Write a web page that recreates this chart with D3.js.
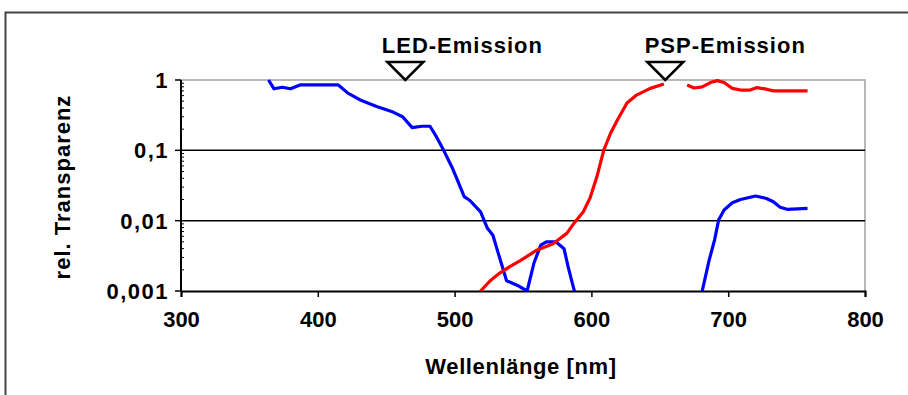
<!DOCTYPE html>
<html>
<head>
<meta charset="utf-8">
<script src="https://cdn.jsdelivr.net/npm/d3@7"></script>
<style>
  body { margin: 0; background: #fff; }
  text { font-family: "Liberation Sans", Arial, sans-serif; font-weight: bold; fill: #000; }
</style>
</head>
<body>
<svg id="chart" width="908" height="395"></svg>
<script>
// Daten: Transmissionskurven der beiden Filter (Wellenlänge in nm, rel. Transparenz)
const blueWl  = [364, 368, 374, 380, 387, 415, 422, 431, 443, 455, 462, 469, 476, 482, 486, 492, 498, 502, 507, 511, 519, 524, 528, 532, 538, 546, 553, 558, 563, 567, 574, 580, 583, 587, 589,
                 null,
                 679, 681, 686, 690, 693, 697, 703, 709, 720, 728, 733, 738, 743, 758];
const blueVal = [1.0, 0.75, 0.79, 0.75, 0.85, 0.85, 0.65, 0.52, 0.42, 0.35, 0.30, 0.21, 0.22, 0.22, 0.165, 0.10, 0.058, 0.038, 0.022, 0.0195, 0.0133, 0.0078, 0.0062, 0.0034, 0.0014, 0.0012, 0.001, 0.0025, 0.0045, 0.005, 0.005, 0.004, 0.0022, 0.0011, 0.0008,
                 null,
                 0.0008, 0.001, 0.0027, 0.0053, 0.0102, 0.0142, 0.018, 0.020, 0.0224, 0.0207, 0.0186, 0.0155, 0.0145, 0.015];

const redWl  = [517, 519, 526, 533, 540, 548, 560, 572, 582, 588, 594, 599, 604, 609, 614, 619, 626, 633, 643, 653,
                null,
                670, 675, 681, 687, 692, 697, 703, 709, 716, 721, 728, 733, 758];
const redVal = [0.0008, 0.001, 0.0014, 0.0018, 0.0022, 0.0027, 0.0038, 0.0047, 0.0066, 0.0096, 0.0133, 0.021, 0.042, 0.1, 0.175, 0.27, 0.47, 0.61, 0.76, 0.88,
                null,
                0.85, 0.77, 0.8, 0.92, 0.98, 0.92, 0.76, 0.72, 0.72, 0.78, 0.74, 0.70, 0.70];

// Emissionsmarken
const markerNames = ["LED-Emission", "PSP-Emission"];
const markerWl    = [464, 654];

// Achsenbeschriftung
const xTicks = [300, 400, 500, 600, 700, 800];
const yTicks = [1, 0.1, 0.01, 0.001];
const yTickLabels = ["1", "0,1", "0,01", "0,001"];

const svg = d3.select("#chart");

const pLeft = 181, pRight = 865, pTop = 80, pBottom = 291;

const xScale = d3.scaleLinear().domain([300, 800]).range([pLeft, pRight]);
const yScale = d3.scaleLog().domain([0.001, 1]).range([pBottom, pTop]);

// äußerer Rahmen
svg.append("rect")
  .attr("x", 5.5).attr("y", 12.5)
  .attr("width", 1000).attr("height", 500)
  .attr("fill", "none")
  .attr("stroke", "#444")
  .attr("stroke-width", 2);

// Plotfläche Rand (grau)
svg.append("path")
  .attr("d", `M${pLeft},${pTop}H${pRight}V${pBottom}`)
  .attr("fill", "none")
  .attr("stroke", "#a0a0a0")
  .attr("stroke-width", 1.5);

// Gitterlinien
svg.append("g")
  .selectAll("line")
  .data([0.1, 0.01])
  .join("line")
  .attr("x1", pLeft).attr("x2", pRight)
  .attr("y1", d => yScale(d)).attr("y2", d => yScale(d))
  .attr("stroke", "#000")
  .attr("stroke-width", 1.5);

// Y-Achse
const yMinor = [];
[0.001, 0.01, 0.1].forEach(function (dec) {
  for (let k = 2; k <= 9; k++) yMinor.push(dec * k);
});

const yAxisG = svg.append("g");
yAxisG.append("line")
  .attr("x1", pLeft).attr("x2", pLeft)
  .attr("y1", pTop).attr("y2", pBottom)
  .attr("stroke", "#000").attr("stroke-width", 2);
yAxisG.selectAll(".minor")
  .data(yMinor)
  .join("line")
  .attr("class", "minor")
  .attr("x1", pLeft).attr("x2", pLeft + 3)
  .attr("y1", d => yScale(d)).attr("y2", d => yScale(d))
  .attr("stroke", "#000").attr("stroke-width", 1);
yAxisG.selectAll(".major")
  .data(yTicks)
  .join("line")
  .attr("class", "major")
  .attr("x1", pLeft - 6).attr("x2", pLeft)
  .attr("y1", d => yScale(d)).attr("y2", d => yScale(d))
  .attr("stroke", "#000").attr("stroke-width", 1.5);
yAxisG.selectAll("text")
  .data(yTicks)
  .join("text")
  .attr("x", pLeft - 12)
  .attr("y", d => yScale(d))
  .attr("dy", "0.36em")
  .attr("text-anchor", "end")
  .style("font-size", "22px")
  .style("letter-spacing", "1.5px")
  .text((d, i) => yTickLabels[i]);

// X-Achse
const xAxis = d3.axisBottom(xScale)
  .tickValues(xTicks)
  .tickSize(6)
  .tickPadding(14)
  .tickFormat(d3.format("d"));

const xAxisG = svg.append("g")
  .attr("transform", `translate(0,${pBottom})`)
  .call(xAxis);
xAxisG.select(".domain").attr("stroke", "#000").attr("stroke-width", 2);
xAxisG.selectAll(".tick line").attr("stroke", "#000").attr("stroke-width", 1.5);
xAxisG.selectAll(".tick text")
  .attr("font-family", null)
  .attr("font-size", null)
  .style("font-size", "22px");

// Kurven
const line = d3.line()
  .defined(d => d[1] !== null)
  .x(d => xScale(d[0]))
  .y(d => yScale(d[1]));

svg.append("clipPath").attr("id", "clip")
  .append("rect")
  .attr("x", pLeft).attr("y", pTop - 1)
  .attr("width", pRight - pLeft).attr("height", pBottom - pTop + 1);

const series = [
  { wl: blueWl, val: blueVal, color: "#0000ff" },
  { wl: redWl, val: redVal, color: "#ff0000" }
];

svg.append("g")
  .attr("clip-path", "url(#clip)")
  .selectAll("path")
  .data(series)
  .join("path")
  .attr("d", s => line(s.wl.map((w, i) => [w, s.val[i]])))
  .attr("fill", "none")
  .attr("stroke", s => s.color)
  .attr("stroke-width", 3.2)
  .attr("stroke-linejoin", "round");

// Emissionsmarken (Dreiecke + Beschriftung)
const markers = svg.append("g")
  .selectAll("g")
  .data(markerWl)
  .join("g")
  .attr("transform", d => `translate(${xScale(d)},${pTop})`);

markers.append("path")
  .attr("d", "M0,0L-18,-18H18Z")
  .attr("fill", "#fff")
  .attr("stroke", "#000")
  .attr("stroke-width", 2.5)
  .attr("stroke-linejoin", "miter");

markers.append("text")
  .attr("x", (d, i) => i === 0 ? 57 : 60)
  .attr("y", -27)
  .attr("text-anchor", "middle")
  .style("font-size", "22px")
  .style("letter-spacing", "1px")
  .text((d, i) => markerNames[i]);

// Achsentitel
svg.append("text")
  .attr("x", 521).attr("y", 374)
  .attr("text-anchor", "middle")
  .style("font-size", "22px")
  .style("letter-spacing", "0.6px")
  .text("Wellenlänge [nm]");

svg.append("text")
  .attr("transform", "translate(70,187) rotate(-90)")
  .attr("text-anchor", "middle")
  .style("font-size", "22px")
  .style("letter-spacing", "1px")
  .text("rel. Transparenz");
</script>
</body>
</html>
